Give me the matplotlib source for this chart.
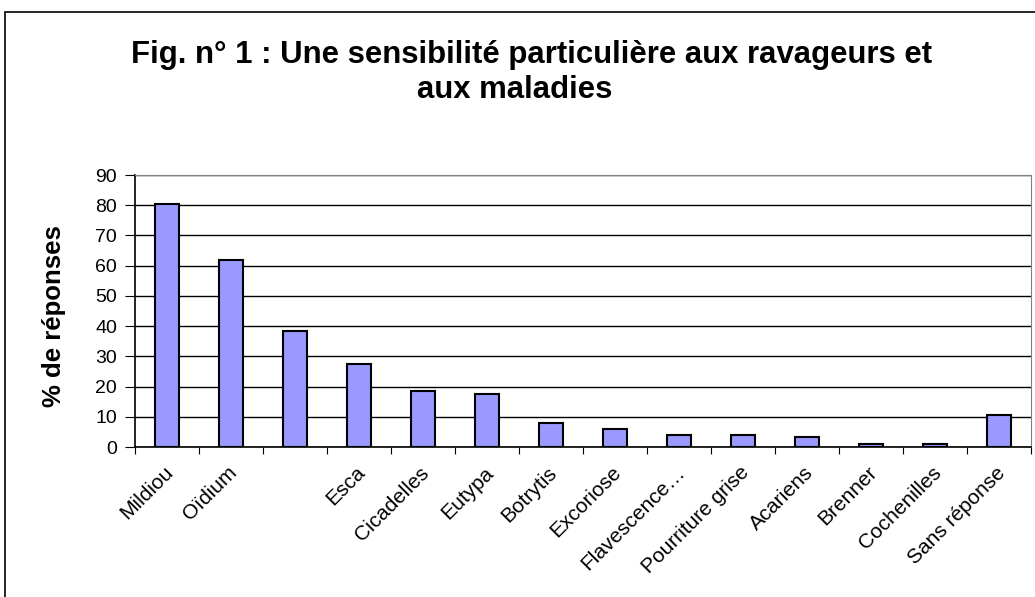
import numpy as np
import matplotlib.pyplot as plt
from matplotlib.patches import Rectangle

# categories (the third label is blank in the source chart)
categories = ["Mildiou", "Oïdium", "", "Esca", "Cicadelles", "Eutypa", "Botrytis",
              "Excoriose", "Flavescence…", "Pourriture grise", "Acariens",
              "Brenner", "Cochenilles", "Sans réponse"]
values = [80.5, 61.8, 38.5, 27.5, 18.5, 17.5, 8.1, 5.9, 3.9, 3.9, 3.2, 1.1, 1.1, 10.5]
yticks = [0, 10, 20, 30, 40, 50, 60, 70, 80, 90]
title_lines = ["Fig. n° 1 : Une sensibilité particulière aux ravageurs et", "aux maladies"]

plt.rcParams['font.family'] = ['Liberation Sans', 'DejaVu Sans']

W, H = 1035, 597
fig = plt.figure(figsize=(W / 100, H / 100), dpi=100)
fig.patches.append(Rectangle((5 / W, -0.1), 1.2, 1 - 12 / H + 0.1,
                             transform=fig.transFigure, fill=False,
                             edgecolor='black', linewidth=1.2))

ax = fig.add_axes([135 / W, 1 - 447 / H, (1031 - 135) / W, (447 - 175) / H])

x = np.arange(len(categories))
ax.bar(x, values, width=0.39, color='#9999FF', edgecolor='black', linewidth=1.5, zorder=3)

ax.set_xlim(-0.5, len(categories) - 0.5)
ax.set_ylim(0, 90)
ax.set_yticks(yticks)
ax.set_yticklabels([str(v) for v in yticks], fontsize=14)
ax.yaxis.grid(True, color='black', linewidth=1.0, zorder=0)
ax.set_axisbelow(True)

ax.set_xticks(np.arange(-0.5, len(categories), 1.0))
ax.set_xticklabels([])
ax.tick_params(axis='x', direction='out', length=5, color='black')
ax.tick_params(axis='y', direction='out', length=7, color='black', pad=6)

for i, lab in enumerate(categories):
    ax.text(i + 0.05, -7.5, lab, rotation=45, rotation_mode='anchor',
            ha='right', va='center', fontsize=15)

for s in ['top', 'right']:
    ax.spines[s].set_color('#808080')
ax.spines['left'].set_color('black')
ax.spines['bottom'].set_color('black')
ax.spines['left'].set_linewidth(1.2)
ax.spines['bottom'].set_linewidth(1.2)

fig.text(54 / W, 1 - 316 / H, "% de réponses", rotation=90, ha='center', va='center',
         fontsize=18.5, fontweight='bold')

fig.text(532 / W, 1 - 63 / H, title_lines[0], ha='center', va='baseline',
         fontsize=22.4, fontweight='bold')
fig.text(515 / W, 1 - 98 / H, title_lines[1], ha='center', va='baseline',
         fontsize=22.4, fontweight='bold')

fig.savefig("out.png", dpi=100)
